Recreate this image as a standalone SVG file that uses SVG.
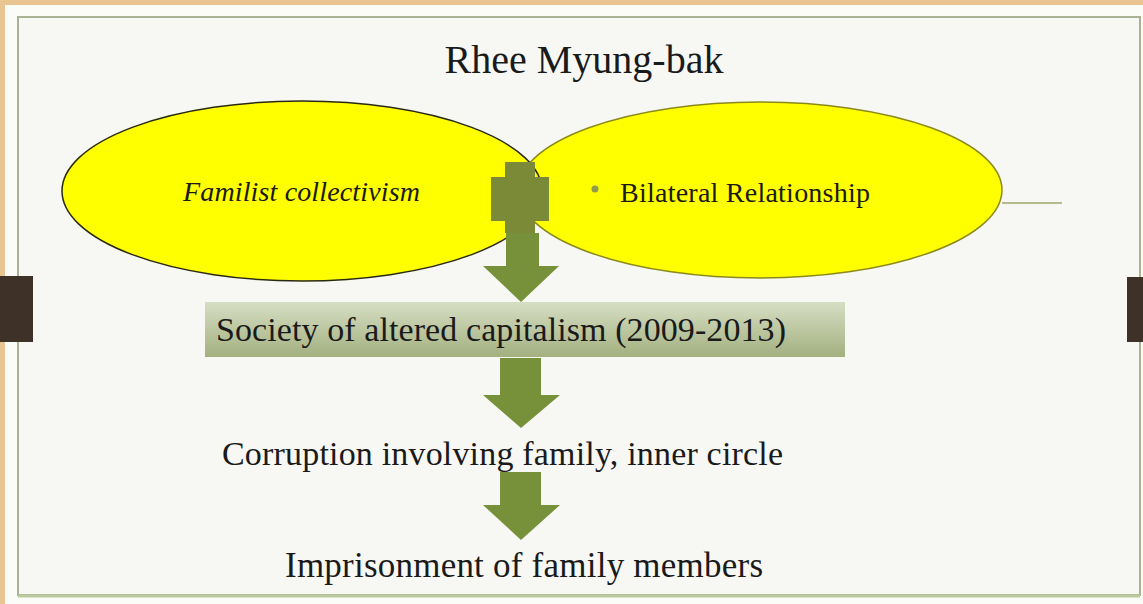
<svg xmlns="http://www.w3.org/2000/svg" width="1143" height="604" viewBox="0 0 1143 604">
<defs>
<linearGradient id="boxg" x1="0" y1="0" x2="0" y2="1">
<stop offset="0" stop-color="#d6dec4"/>
<stop offset="1" stop-color="#a3b07f"/>
</linearGradient>
<style>
.t{font-family:"Liberation Serif","DejaVu Serif",serif;fill:#1a1a1a}
.arrow{fill:#77903a}
.plus{fill:#7b8a37}
.ell{fill:#ffff00}
.dark{fill:#3e3128}
</style>
</defs>
<rect x="0" y="0" width="1143" height="604" fill="#fbfcf8"/>
<rect x="0" y="0" width="1143" height="5" fill="#e9c592"/>
<rect x="0" y="0" width="5" height="604" fill="#e9c592"/>
<rect x="18" y="17" width="1122" height="578" fill="#f7f8f4" stroke="#a9b394" stroke-width="2"/>
<line x1="18" y1="596" x2="1140" y2="596" stroke="#bccb9c" stroke-width="3"/>
<rect class="dark" x="0" y="276" width="33" height="66"/>
<rect class="dark" x="1127" y="277" width="16" height="65"/>

<g id="title"><text class="t" x="584" y="73" font-size="40" text-anchor="middle">Rhee Myung-bak</text></g>

<g id="bilateral">
<ellipse class="ell" cx="760" cy="190" rx="242" ry="88" stroke="#8a8a1c" stroke-width="1.5"/>
<circle cx="595" cy="189" r="3.5" fill="#8f9a4c"/>
<text class="t" x="620" y="202" font-size="28" textLength="250">Bilateral Relationship</text>
</g>
<g id="familist">
<ellipse class="ell" cx="302" cy="191" rx="240" ry="90" stroke="#2a2a12" stroke-width="1.5"/>
<text class="t" x="183" y="201" font-size="28" font-style="italic" textLength="237">Familist collectivism</text>
</g>

<g id="connectors">
<line x1="1002" y1="203" x2="1062" y2="203" stroke="#b4bb8f" stroke-width="2"/>
<polygon class="plus" points="505,162 535,162 535,177 549,177 549,221 535,221 535,233 505,233 505,221 491,221 491,177 505,177"/>
<polygon class="arrow" points="506,233 539,233 539,266 559,266 521,302 483,266 506,266"/>
<polygon class="arrow" points="500,358 541,358 541,395 560,395 521,428 483,395 500,395"/>
<polygon class="arrow" points="500,472 541,472 541,505 560,505 521,540 483,505 500,505"/>
</g>

<g id="society">
<rect x="205" y="302" width="640" height="55" fill="url(#boxg)"/>
<text class="t" x="216" y="341" font-size="34" textLength="570">Society of altered capitalism (2009-2013)</text>
</g>
<g id="corruption"><text class="t" x="222" y="465" font-size="34" textLength="561">Corruption involving family, inner circle</text></g>
<g id="imprisonment"><text class="t" x="285" y="577" font-size="35" textLength="478">Imprisonment of family members</text></g>
</svg>
